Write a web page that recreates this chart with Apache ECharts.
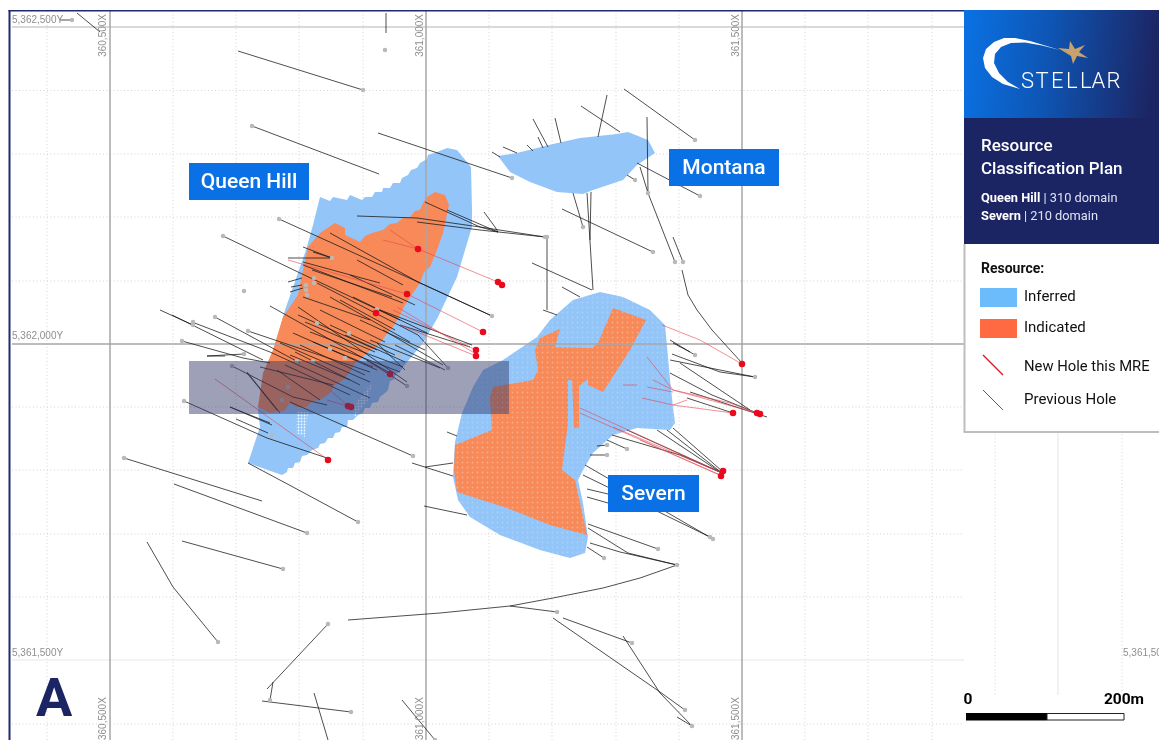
<!DOCTYPE html>
<html><head><meta charset="utf-8">
<style>html,body{margin:0;padding:0;background:#fff}#c{width:1159px;height:740px}</style>
<script src="https://cdn.jsdelivr.net/npm/echarts@6/dist/echarts.min.js"></script>
</head><body><div id="c"></div>
<script>
// Plan grid positions
const minorEast=[47,173,236,299,363,489,552,616,679,805,868,932,995,1122];
const majorEast=[110,426,742];
const faintEast=[1058];
const minorNorth=[90.5,154,217,281,407,470,534,597,724];
const majorNorth=[27,344];
const faintNorth=[660];
const eastingLabels=['360,500X','361,000X','361,500X'];
const northingLabels=['5,362,500Y','5,362,000Y','5,361,500Y'];
const domainNames=['Queen Hill','Montana','Severn'];
const legendNames=['Inferred','Indicated','New Hole this MRE','Previous Hole'];
const scaleLabels=['0','200m'];

const queenHillInferred=[320,197,330,201,333,197,347,200,350,195,362,200,365,197,372,197,375,192,382,192,383,188,390,188,393,183,400,183,402,178,408,175,411,170,417,168,420,163,427,159,428,155,437,152,447,148,457,150,471,167,472,210,472,227,468,240,457,277,438,317,423,343,403,367,400,372,397,373,393,380,390,381,388,390,385,393,380,397,378,402,372,403,370,408,365,408,363,413,358,415,353,420,348,420,347,427,342,427,340,432,335,433,333,438,328,438,325,443,320,444,318,448,312,450,307,455,302,456,300,462,295,463,293,468,288,468,287,472,282,475,248,463,260,427,258,410,268,370,285,310,306,250,313,225];
const queenHillIndicated=[435,192,445,195,449,205,443,233,437,250,430,267,424,272,420,283,413,293,405,305,400,315,393,327,386,335,377,347,370,350,362,358,355,363,350,372,343,380,335,385,330,393,320,400,312,401,307,407,297,407,290,403,284,411,270,413,258,407,263,373,273,350,283,317,298,295,303,270,308,247,320,233,335,223,345,228,345,235,360,242,365,236,372,233,383,230,390,224,397,223,404,217,410,217,415,211,420,210,424,201,427,197];
const montanaInferred=[498,156,517,153,553,144,580,138,617,134,628,132,648,140,655,153,637,165,623,180,593,190,583,194,557,192,530,182,510,172];
const severnInferred=[600,292,623,297,650,310,665,325,668,357,670,380,673,407,675,423,670,430,637,428,613,435,593,453,583,470,578,480,583,503,588,537,585,553,570,558,540,550,500,535,470,517,458,500,453,477,455,442,462,413,473,387,483,370,503,360,537,337,550,320,573,300];
const severnIndicated=[560,329,555,347,592,348,598,343,613,308,646,320,630,350,603,392,588,385,588,379,579,386,579,428,574,428,572,380,568,380,568,423,562,470,575,480,587,535,550,525,507,508,457,492,454,470,455,445,492,430,490,397,493,387,533,380,538,370,535,350,540,338];
const stipplePatches=[[297,412,308,412,305,437,296,433],[356,403,372,383,368,400,354,418]];
const holdingBand=[189,361,509,361,509,414,189,414];

const previousHoles=[
[238,51,363,90],[252,126,379,174],[378,133,512,178],[77,13,100,32],[386,13,386,33],[60,20,72,20],
[279,219,418,282,492,316],[418,282,492,316],[223,236,298,272,400,320],[357,216,417,218,480,227,545,237],[417,222,480,230,545,237],[425,202,480,227,498,232],[447,210,498,232],[484,212,495,227,498,232],
[547,237,547,310],[532,263,592,290],[562,287,580,297],[543,310,557,315],[562,209,653,252],[573,193,583,227],[587,193,593,290],[591,192,590,240],
[533,119,548,147],[555,118,561,143],[538,137,543,148],[527,145,533,151],[503,147,517,153],[492,152,500,157],[607,95,598,137],[581,106,620,132],[624,89,695,140],[647,117,648,193],[637,163,700,196],[627,175,635,180],[640,167,648,193,675,262],[673,237,683,262],[682,270,688,295,697,310,712,330,742,363],
[670,340,695,355],[673,343,690,352],[670,360,755,377],[670,373,712,395,757,413],[680,363,750,410],[687,398,733,413],[672,354,720,372,755,377],[690,392,767,417],
[667,430,722,473],[673,428,722,471],[657,430,720,472],[627,430,720,472],[612,435,680,455,722,473],[607,440,627,449],[597,446,608,445],[590,455,607,455],
[585,465,713,539],[583,475,710,537],[587,489,608,494],[587,497,608,503],[588,524,658,549],[588,528,628,553,677,565],[590,543,620,552,677,565],[587,547,604,558],
[677,565,640,578,603,588,553,598,510,606,480,609,440,613,348,620],[510,606,557,612],[563,618,632,643],[553,618,660,692,685,710],[623,636,660,693,692,726],[677,717,692,726],
[184,401,267,438,327,458],[230,407,272,425],[236,419,268,433],[124,458,262,501],[174,484,307,533],[248,463,293,487,358,522],[182,541,283,569],[147,542,173,587,218,642],[328,624,267,689],[273,682,270,700],[262,701,351,712],[314,693,328,740],[402,700,435,740],[412,463,453,476],[425,467,453,463],[424,506,467,515],[447,432,457,436],[290,402,413,456],
[303,247,332,258],[288,258,332,258],[288,282,302,278],[291,287,302,285],[290,292,303,288],
[160,310,193,325],[215,317,300,363],[172,315,263,360],[192,322,270,352,370,398],[182,341,243,358,270,363],[207,356,244,354],[207,356,225,356],[232,366,293,397,327,405],[247,372,280,413],[248,331,370,372],[270,306,390,373],
[298,307,407,382],[303,265,403,303],[317,283,418,335,448,368],[303,297,370,320],[330,297,410,342],[353,297,427,333],[357,260,403,285],[298,315,377,350],[293,333,377,370],[310,332,403,367],[280,343,370,382],[313,342,373,367],[260,367,333,385],[277,370,320,400],[380,310,472,345],[383,330,443,365],[400,325,470,347],[377,343,405,370],[367,360,407,386],[247,373,277,410],[230,407,270,423],[340,300,395,330],[330,345,400,372],[290,355,350,380],
[313,252,332,258],[303,262,380,283],[312,270,392,297],[330,233,418,282],[350,275,415,305],[320,310,385,342],[305,322,375,352],[330,325,395,355],[300,345,365,375],[295,352,360,385],[285,365,350,395],[345,335,405,362],[360,320,425,350],[370,340,440,368],[395,345,445,370]
];
const newHoles=[
[418,249,498,282,502,285],[390,230,418,249],[383,240,418,249],[407,294,483,332],[288,260,407,294],[393,310,476,350],[400,325,476,356],[397,307,476,354],[367,362,390,374],[330,390,348,406],[327,400,351,407],[215,379,327,459],
[662,325,700,340,742,364],[647,357,673,390,757,413],[653,380,673,390],[623,385,637,385],[647,387,673,392],[642,398,673,405,733,413],[673,405,687,400],[673,390,730,403,760,414],
[580,408,720,472],[580,413,720,475],[613,427,722,473],[640,440,722,476]
];
const collars=[72,20,363,90,252,126,385,50,512,178,279,219,223,236,492,316,545,237,547,237,653,252,583,227,648,193,675,262,683,262,695,140,700,196,635,180,695,355,755,377,607,445,627,449,607,455,713,539,710,537,658,549,677,565,604,558,557,612,632,643,685,710,692,726,184,401,124,458,307,533,358,522,283,569,218,642,328,624,270,700,351,712,435,740,332,258,314,278,314,283,306,285,306,290,307,295,244,291,248,331,193,322,193,325,215,317,182,341,244,354,232,366,317,323,349,333,330,349,345,358,297,361,313,361,288,387,282,400,377,309,399,355,448,368,407,386,413,456,272,435];
const newCollars=[418,249,498,282,502,285,407,294,376,313,483,332,476,350,476,356,390,374,348,406,351,407,328,460,742,364,733,413,757,413,760,414,723,471,721,476];

const pairs=a=>{const o=[];for(let i=0;i<a.length;i+=2)o.push([a[i],a[i+1]]);return o;};
function dots(bg,dot,step){const c=document.createElement('canvas');c.width=c.height=step;const g=c.getContext('2d');
  if(bg){g.fillStyle=bg;g.fillRect(0,0,step,step);}g.fillStyle=dot;g.beginPath();g.arc(step/2,step/2,.9,0,7);g.fill();return c;}
function poly(name,pts,fill,z,extra){
  const p=pairs(pts);
  return {type:'custom',name,coordinateSystem:'cartesian2d',z,silent:true,clip:false,data:[[p[0][0],p[0][1]]],
    renderItem:(params,api)=>({type:'polygon',shape:{points:p.map(q=>api.coord(q))},style:Object.assign({fill},extra||{})})};
}
function lineSet(name,list,color,width,opacity,z,type){
  return {type:'lines',name,coordinateSystem:'cartesian2d',polyline:true,silent:true,z,animation:false,
    data:list.map(h=>({coords:h})),lineStyle:{color,width,opacity,type:type||'solid',cap:'butt'}};
}
const vline=(xs)=>xs.map(x=>[[x,11],[x,740]]);
const hline=(ys)=>ys.map(y=>[[12,y],[964,y]]);

const severnBlue={image:dots('#93c5f9','rgba(255,255,255,.22)',5),repeat:'repeat'};
const severnOrange={image:dots('#f78a58','rgba(255,255,255,.3)',5),repeat:'repeat'};
const speck={image:dots(null,'rgba(255,255,255,.9)',3),repeat:'repeat'};

const series=[
  lineSet('minor grid',vline(minorEast).concat(hline(minorNorth)),'#cfcfcf',.9,1,1,[1,2.5]),
  lineSet('faint grid',vline(faintEast).concat(hline(faintNorth)),'#e8e8e8',1.2,1,1),
  lineSet('top grid',hline([majorNorth[0]]),'#cdcdcd',1.4,1,1),
  lineSet('major grid',vline(majorEast).concat(hline([majorNorth[1]])),'#a6a6a6',1.5,1,3),
  poly('Queen Hill Inferred',queenHillInferred,'#93c5f9',2),
  poly('Queen Hill Indicated',queenHillIndicated,'#f78a58',2),
  poly('Montana Inferred',montanaInferred,'#93c5f9',2),
  poly('Severn Inferred',severnInferred,severnBlue,2),
  poly('Severn Indicated',severnIndicated,severnOrange,2),
  poly('stipple a',stipplePatches[0],speck,2),
  poly('stipple b',stipplePatches[1],speck,2),
  lineSet('Previous Hole',previousHoles.map(pairs),'#161616',.9,.85,4),
  lineSet('New Hole',newHoles.map(pairs),'#e8434f',.8,.75,5),
  {type:'scatter',name:'collars',z:6,silent:true,symbolSize:4.5,itemStyle:{color:'#b9b9b9',opacity:1},data:pairs(collars),animation:false},
  {type:'scatter',name:'new collars',z:6,silent:true,symbolSize:6.5,itemStyle:{color:'#ea0a1e',opacity:1},data:pairs(newCollars),animation:false},
  poly('band',holdingBand,'rgba(52,56,104,.48)',7)
];

const G=[];
const Z=20;
const rect=(x,y,w,h,fill,extra)=>G.push(Object.assign({type:'rect',z:Z,shape:{x,y,width:w,height:h},style:{fill}},extra||{}));
const text=(x,y,t,size,fill,o)=>G.push({type:'text',z:Z+1,x,y,rotation:(o&&o.rot)||0,style:Object.assign({text:t,fill,font:`${(o&&o.weight)||400} ${size}px ${(o&&o.family)||'Roboto'}`,textAlign:(o&&o.align)||'left',textVerticalAlign:'middle'},(o&&o.style)||{})});

// page frame
rect(0,0,8.5,740,'#fff'); rect(0,0,1159,10,'#fff');
rect(8.5,10,2,730,'#212a6e'); rect(8.5,10,1151,1.6,'#212a6e');

// grid labels
const gl='#8f8f8f';
[103,420,736].forEach((x,i)=>{
  text(x,14,eastingLabels[i],10,gl,{rot:Math.PI/2,align:'right',family:'Liberation Sans'});
  text(x,740,eastingLabels[i],10,gl,{rot:Math.PI/2,align:'left',family:'Liberation Sans'});
});
[20,336,653].forEach((y,i)=>text(12,y,northingLabels[i],10,gl,{family:'Liberation Sans'}));
text(1123,653,northingLabels[2],10,gl,{family:'Liberation Sans'});

// domain labels
[[189,163,120,37],[669,149,110,37],[608,475,91,37]].forEach((b,i)=>{
  rect(b[0],b[1],b[2],b[3],'#0a70e6');
  text(b[0]+b[2]/2,b[1]+b[3]/2+1,domainNames[i],21,'#fff',{weight:500,align:'center'});
});

// A, scale bar
text(36,702,'A',54,'#1c2563',{weight:700});
rect(975,695,184,45,'#fff');
rect(966,713,81,7.5,'#000');
rect(1047,713.5,77,6.5,'#fff',{style:{fill:'#fff',stroke:'#222',lineWidth:1}});
text(968,700,scaleLabels[0],15.5,'#000',{weight:700,align:'center'});
text(1144,700,scaleLabels[1],15.5,'#000',{weight:700,align:'right'});

// side panel
rect(964,10,195,108,new echarts.graphic.LinearGradient(0,0,1,.2,[{offset:0,color:'#0a72e4'},{offset:.45,color:'#0e55b4'},{offset:1,color:'#1c2563'}]));
rect(964,118,195,126,'#1c2563');
rect(964,244,195,188,'#fff');
rect(963.5,244,2,188,'#bdbdbd'); rect(963.5,431,196,2,'#bdbdbd');
G.push({type:'polygon',z:Z+1,shape:{points:[[1060,50],[1045,45.5],[1030,41],[1015,38],[1004,38],[994,42],[986,49],[983,58],[985,68],[992,77],[1003,84],[1020,89],[1008,82],[999,73],[994,63],[995,54],[1001,47],[1011,43],[1025,42.5],[1042,45.5]]},style:{fill:'#fff'}});
G.push({type:'polygon',z:Z+1,shape:{points:[[1070,41],[1075,49],[1085,45],[1079,52],[1088,58],[1077,56],[1073,64],[1071,56],[1058,48],[1069,49]]},style:{fill:'#c8a26a'}});
[['S',1021],['T',1035.5],['E',1051],['L',1066],['L',1080],['A',1091.5],['R',1106.5]].forEach(a=>text(a[1],82.5,a[0],22,'#fff',{weight:300}));
text(981,147,'Resource',17,'#fff',{weight:500});
text(981,169.5,'Classification Plan',17,'#fff',{weight:500});
G.push({type:'text',z:Z+1,x:981,y:198.5,style:{text:'{b|Queen Hill} | 310 domain',fill:'#dfe3f2',font:'400 12.8px Roboto',textVerticalAlign:'middle',rich:{b:{font:'700 12.8px Roboto',fill:'#fff'}}}});
G.push({type:'text',z:Z+1,x:981,y:217,style:{text:'{b|Severn} | 210 domain',fill:'#dfe3f2',font:'400 12.8px Roboto',textVerticalAlign:'middle',rich:{b:{font:'700 12.8px Roboto',fill:'#fff'}}}});
text(981,269,'Resource:',14,'#111',{weight:700});
rect(980,288,37,19,'#6cbcfb'); rect(980,319,37,19,'#ff6a42');
text(1024,297,legendNames[0],15,'#111');
text(1024,328,legendNames[1],15,'#111');
text(1024,367,legendNames[2],14.8,'#111');
text(1024,400,legendNames[3],15,'#111');
G.push({type:'line',z:Z+1,shape:{x1:983,y1:355,x2:1003,y2:375},style:{stroke:'#d81e2c',lineWidth:1.5}});
G.push({type:'line',z:Z+1,shape:{x1:983,y1:390,x2:1003,y2:410},style:{stroke:'#333',lineWidth:.8}});

const chart=echarts.init(document.getElementById('c'),null,{renderer:'canvas',width:1159,height:740});
chart.setOption({animation:false,backgroundColor:'#fff',
  grid:{left:0,right:0,top:0,bottom:0},
  xAxis:{type:'value',min:0,max:1159,show:false},
  yAxis:{type:'value',min:0,max:740,inverse:true,show:false},
  series,graphic:{elements:G}});
</script></body></html>
